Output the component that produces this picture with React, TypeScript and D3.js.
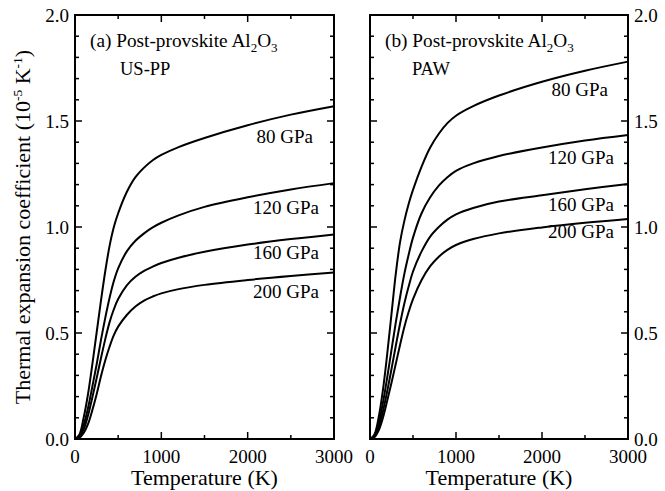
import React from "react";
import * as d3 from "d3";

const temps = [0, 50, 100, 150, 200, 250, 300, 350, 400, 450, 500, 600, 700, 800, 900, 1000, 1200, 1500, 2000, 2500, 3000];

// (a) US-PP
const usPP80 = [0, 0.02, 0.1, 0.21, 0.35, 0.5, 0.65, 0.79, 0.91, 1.0, 1.065, 1.165, 1.235, 1.28, 1.315, 1.34, 1.377, 1.42, 1.48, 1.53, 1.57];
const usPP120 = [0, 0.015, 0.065, 0.145, 0.245, 0.35, 0.465, 0.57, 0.665, 0.745, 0.805, 0.885, 0.935, 0.97, 0.998, 1.02, 1.055, 1.095, 1.14, 1.177, 1.207];
const usPP160 = [0, 0.01, 0.045, 0.11, 0.195, 0.285, 0.38, 0.47, 0.55, 0.612, 0.66, 0.725, 0.765, 0.793, 0.813, 0.83, 0.855, 0.883, 0.917, 0.943, 0.965];
const usPP200 = [0, 0.005, 0.028, 0.07, 0.135, 0.21, 0.295, 0.37, 0.435, 0.49, 0.53, 0.585, 0.625, 0.653, 0.672, 0.687, 0.707, 0.727, 0.75, 0.769, 0.785];

// (b) PAW
const paw80 = [0, 0.02, 0.1, 0.23, 0.4, 0.59, 0.78, 0.93, 1.03, 1.11, 1.175, 1.285, 1.375, 1.44, 1.49, 1.525, 1.57, 1.62, 1.685, 1.737, 1.78];
const paw120 = [0, 0.015, 0.075, 0.17, 0.29, 0.42, 0.55, 0.67, 0.78, 0.87, 0.95, 1.065, 1.14, 1.195, 1.235, 1.265, 1.3, 1.335, 1.375, 1.408, 1.434];
const paw160 = [0, 0.01, 0.055, 0.13, 0.225, 0.33, 0.44, 0.545, 0.64, 0.72, 0.79, 0.885, 0.955, 1.0, 1.035, 1.06, 1.09, 1.12, 1.15, 1.178, 1.203];
const paw200 = [0, 0.008, 0.04, 0.1, 0.18, 0.265, 0.355, 0.445, 0.53, 0.6, 0.66, 0.75, 0.815, 0.86, 0.892, 0.915, 0.943, 0.97, 0.998, 1.02, 1.038];

const pressureLabels = ["80 GPa", "120 GPa", "160 GPa", "200 GPa"];
const xTicks = [0, 1000, 2000, 3000];
const xMinorTicks = [500, 1500, 2500];
const yTicks = [0, 0.5, 1.0, 1.5, 2.0];

const FONT = "'Liberation Serif', 'Times New Roman', serif";

type Panel = {
  x0: number;
  x1: number;
  tag: string;
  method: string;
  series: number[][];
  labels: { x: number; y: number }[];
  side: "left" | "right";
};

const TOP = 15;
const BOTTOM = 439;

const panels: Panel[] = [
  {
    x0: 75,
    x1: 334,
    tag: "(a)",
    method: "US-PP",
    series: [usPP80, usPP120, usPP160, usPP200],
    labels: [
      { x: 313, y: 143 },
      { x: 319, y: 214 },
      { x: 319, y: 259 },
      { x: 319, y: 298 },
    ],
    side: "left",
  },
  {
    x0: 370,
    x1: 628,
    tag: "(b)",
    method: "PAW",
    series: [paw80, paw120, paw160, paw200],
    labels: [
      { x: 608, y: 96 },
      { x: 614, y: 164 },
      { x: 614, y: 211 },
      { x: 614, y: 238 },
    ],
    side: "right",
  },
];

function PanelView({ p }: { p: Panel }) {
  const x = d3.scaleLinear().domain([0, 3000]).range([p.x0, p.x1]);
  const y = d3.scaleLinear().domain([0, 2]).range([BOTTOM, TOP]);
  const line = d3
    .line<[number, number]>()
    .x((d) => x(d[0]))
    .y((d) => y(d[1]))
    .curve(d3.curveCatmullRom.alpha(0.5));
  const yMinor = d3.range(0, 21).map((i) => i / 10).filter((v) => Math.round(v * 10) % 5 !== 0);
  const maj = 7;
  const min = 4;
  return (
    <g>
      {p.series.map((s, i) => (
        <path
          key={i}
          d={line(temps.map((t, j) => [t, s[j]] as [number, number])) || ""}
          fill="none"
          stroke="#000"
          strokeWidth={2}
        />
      ))}
      <rect x={p.x0} y={TOP} width={p.x1 - p.x0} height={BOTTOM - TOP} fill="none" stroke="#000" strokeWidth={2} />
      {xTicks.map((t) => (
        <g key={"xt" + t}>
          <line x1={x(t)} x2={x(t)} y1={BOTTOM} y2={BOTTOM - maj} stroke="#000" strokeWidth={1.5} />
          <line x1={x(t)} x2={x(t)} y1={TOP} y2={TOP + maj} stroke="#000" strokeWidth={1.5} />
          <text x={x(t)} y={463} textAnchor="middle" fontSize={19} fontFamily={FONT}>
            {t}
          </text>
        </g>
      ))}
      {xMinorTicks.map((t) => (
        <g key={"xm" + t}>
          <line x1={x(t)} x2={x(t)} y1={BOTTOM} y2={BOTTOM - min} stroke="#000" strokeWidth={1.5} />
          <line x1={x(t)} x2={x(t)} y1={TOP} y2={TOP + min} stroke="#000" strokeWidth={1.5} />
        </g>
      ))}
      {yTicks.map((v) => (
        <g key={"yt" + v}>
          <line x1={p.x0} x2={p.x0 + maj} y1={y(v)} y2={y(v)} stroke="#000" strokeWidth={1.5} />
          <line x1={p.x1} x2={p.x1 - maj} y1={y(v)} y2={y(v)} stroke="#000" strokeWidth={1.5} />
          {p.side === "left" ? (
            <text x={p.x0 - 6} y={y(v) + 6.5} textAnchor="end" fontSize={19} fontFamily={FONT}>
              {v.toFixed(1)}
            </text>
          ) : (
            <text x={p.x1 + 6} y={y(v) + 6.5} textAnchor="start" fontSize={19} fontFamily={FONT}>
              {v.toFixed(1)}
            </text>
          )}
        </g>
      ))}
      {yMinor.map((v) => (
        <g key={"ym" + v}>
          <line x1={p.x0} x2={p.x0 + min} y1={y(v)} y2={y(v)} stroke="#000" strokeWidth={1.5} />
          <line x1={p.x1} x2={p.x1 - min} y1={y(v)} y2={y(v)} stroke="#000" strokeWidth={1.5} />
        </g>
      ))}
      <text x={p.x0 + 15} y={47} fontSize={19.3} fontFamily={FONT}>
        {p.tag} Post-provskite Al
        <tspan fontSize={13} dy={5}>2</tspan>
        <tspan dy={-5}>O</tspan>
        <tspan fontSize={13} dy={5}>3</tspan>
      </text>
      <text x={p.side === "left" ? p.x0 + 45 : p.x0 + 42} y={75} fontSize={18.5} fontFamily={FONT}>
        {p.method}
      </text>
      {p.labels.map((l, i) => (
        <text key={"l" + i} x={l.x} y={l.y} textAnchor="end" fontSize={19} fontFamily={FONT}>
          {pressureLabels[i]}
        </text>
      ))}
      <text x={(p.x0 + p.x1) / 2} y={485} textAnchor="middle" fontSize={22} fontFamily={FONT}>
        Temperature (K)
      </text>
    </g>
  );
}

export default function App() {
  return (
    <svg
      width={665}
      height={491}
      style={{ position: "absolute", left: 0, top: 0, background: "#fff" }}
    >
      <rect width={665} height={491} fill="#fff" />
      {panels.map((p, i) => (
        <PanelView key={i} p={p} />
      ))}
      <text
        transform={`translate(30, ${(TOP + BOTTOM) / 2}) rotate(-90)`}
        textAnchor="middle"
        fontSize={22}
        fontFamily={FONT}
      >
        Thermal expansion coefficient (10
        <tspan fontSize={13.5} dy={-8}>-5</tspan>
        <tspan dy={8}> K</tspan>
        <tspan fontSize={13.5} dy={-8}>-1</tspan>
        <tspan dy={8}>)</tspan>
      </text>
    </svg>
  );
}
